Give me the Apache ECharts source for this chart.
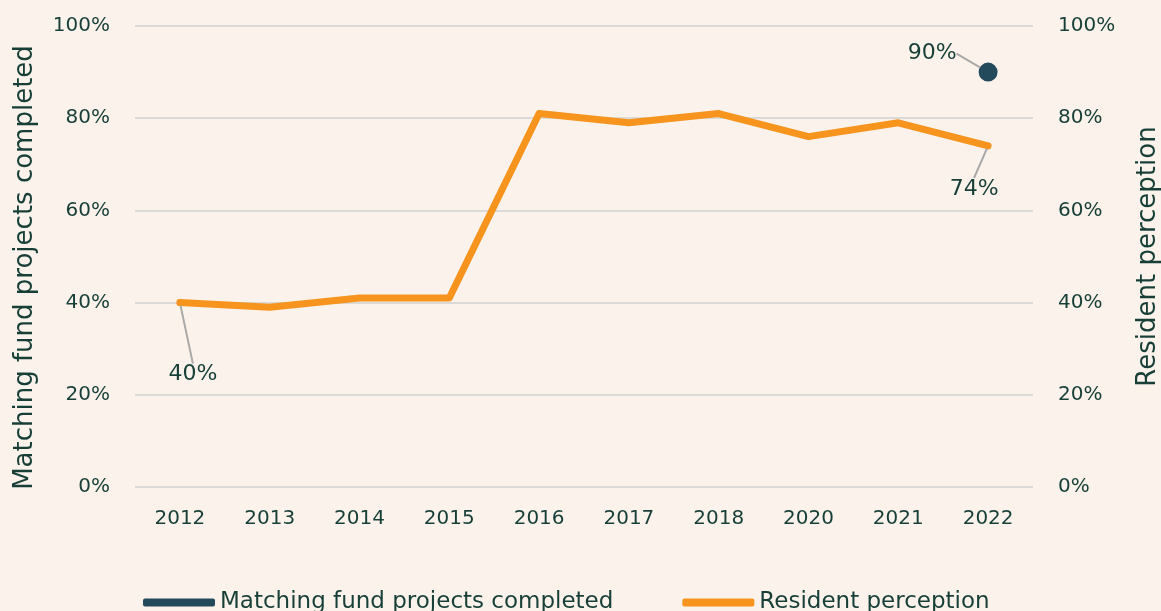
<!DOCTYPE html>
<html>
<head>
<meta charset="utf-8">
<style>
  html, body { margin: 0; padding: 0; background: #FBF2EC; }
  #chart { width: 1161px; height: 611px; }
</style>
<script src="https://cdn.jsdelivr.net/npm/echarts@6/dist/echarts.min.js"></script>
</head>
<body>
<div id="chart"></div>
<script>
// --- Data ---
const years = ['2012', '2013', '2014', '2015', '2016', '2017', '2018', '2020', '2021', '2022'];
const matchingFund = [null, null, null, null, null, null, null, null, null, 90];
const residentPerception = [40, 39, 41, 41, 81, 79, 81, 76, 79, 74];
const yTicks = [0, 20, 40, 60, 80, 100];

// annotated points: index -> offset of the label from its default spot
const residentNotes = { 0: [13, 53], 9: [-14, 24] };
const matchingNotes = { 9: [-56, 7] };

const textColor = '#173F36';
const font = 'DejaVu Sans';

const chart = echarts.init(document.getElementById('chart'));

function yAxisBase(name, pos) {
    return {
        type: 'value',
        position: pos,
        min: yTicks[0],
        max: yTicks[yTicks.length - 1],
        interval: 20,
        name: name,
        nameLocation: 'middle',
        nameGap: pos === 'left' ? 97 : 102,
        nameTextStyle: {
            color: textColor, fontSize: 26, fontFamily: font,
            padding: pos === 'left' ? [0, 22, 0, 0] : 0
        },
        axisLine: { show: false },
        axisTick: { show: false },
        axisLabel: { color: textColor, fontSize: 20, fontFamily: font, margin: 25, formatter: '{value}%' },
        splitLine: { show: pos === 'left', lineStyle: { color: '#DCDAD6', width: 2 } }
    };
}

function noteItems(values, notes) {
    return values.map((v, i) => {
        if (!notes[i]) return v;
        return {
            value: v,
            label: { show: true },
            labelLine: { show: true, lineStyle: { color: '#A9A9A9', width: 2 } }
        };
    });
}

const option = {
    backgroundColor: '#FBF2EC',
    textStyle: { fontFamily: font },
    grid: { left: 135, right: 128, top: 26, bottom: 124, outerBoundsMode: 'none' },
    legend: {
        left: 138,
        top: 586,
        itemGap: 69,
        itemWidth: 72,
        itemHeight: 8,
        icon: 'roundRect',
        textStyle: { color: textColor, fontSize: 23, fontFamily: font },
        data: ['Matching fund projects completed', 'Resident perception']
    },
    xAxis: {
        type: 'category',
        data: years,
        axisLine: { show: false },
        axisTick: { show: false },
        axisLabel: { color: textColor, fontSize: 20, fontFamily: font, margin: 22 }
    },
    yAxis: [
        yAxisBase('Matching fund projects completed', 'left'),
        yAxisBase('Resident perception', 'right')
    ],
    series: [
        {
            name: 'Matching fund projects completed',
            type: 'line',
            yAxisIndex: 0,
            data: noteItems(matchingFund, matchingNotes),
            symbol: 'circle',
            symbolSize: 19,
            showSymbol: true,
            itemStyle: { color: '#234A5A' },
            lineStyle: { color: '#234A5A', width: 7 },
            label: { show: false, position: 'top', color: textColor, fontSize: 22, fontFamily: font, formatter: '{c}%' },
            labelLayout: function (p) {
                const o = matchingNotes[p.dataIndex];
                return o ? { dx: o[0], dy: o[1] } : {};
            },
            z: 3
        },
        {
            name: 'Resident perception',
            type: 'line',
            yAxisIndex: 1,
            data: noteItems(residentPerception, residentNotes),
            symbol: 'circle',
            symbolSize: 6,
            showSymbol: true,
            itemStyle: { color: '#F7941D' },
            lineStyle: { color: '#F7941D', width: 7, cap: 'round', join: 'round' },
            label: { show: false, position: 'bottom', color: textColor, fontSize: 22, fontFamily: font, formatter: '{c}%' },
            labelLayout: function (p) {
                const o = residentNotes[p.dataIndex];
                return o ? { dx: o[0], dy: o[1] } : {};
            },
            z: 2
        }
    ]
};

chart.setOption(option);
</script>
</body>
</html>
